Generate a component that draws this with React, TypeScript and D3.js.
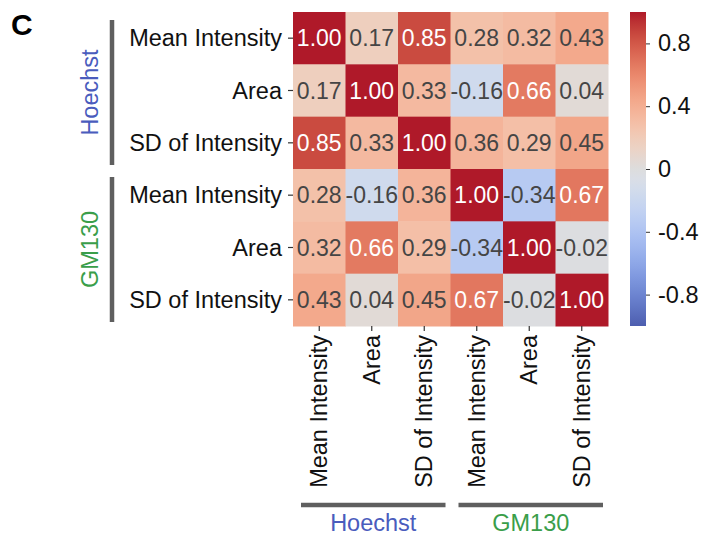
import React, { useRef, useEffect } from 'react';
import * as d3 from 'd3';

// data
const groups = ['Hoechst', 'GM130'];
const groupColors = ['#4a5cbd', '#3a9e4a'];
const features = ['Mean Intensity', 'Area', 'SD of Intensity'];
const corr = [
  [1.0, 0.17, 0.85, 0.28, 0.32, 0.43],
  [0.17, 1.0, 0.33, -0.16, 0.66, 0.04],
  [0.85, 0.33, 1.0, 0.36, 0.29, 0.45],
  [0.28, -0.16, 0.36, 1.0, -0.34, 0.67],
  [0.32, 0.66, 0.29, -0.34, 1.0, -0.02],
  [0.43, 0.04, 0.45, 0.67, -0.02, 1.0],
];
const cbarTicks = [0.8, 0.4, 0, -0.4, -0.8];

// Moreland cool-warm table (matplotlib "coolwarm")
const coolwarm = [
  [59, 76, 192], [68, 90, 204], [77, 104, 215], [87, 117, 225], [98, 130, 234],
  [108, 142, 241], [119, 154, 247], [130, 165, 251], [141, 176, 254], [152, 185, 255],
  [163, 194, 255], [174, 201, 253], [184, 208, 249], [194, 213, 244], [204, 217, 238],
  [213, 219, 230], [221, 221, 221], [229, 216, 209], [236, 211, 197], [241, 204, 185],
  [245, 196, 173], [247, 187, 160], [247, 177, 148], [247, 166, 135], [244, 154, 123],
  [241, 141, 111], [236, 127, 99], [229, 112, 88], [222, 96, 77], [213, 80, 66],
  [203, 62, 56], [192, 40, 47], [180, 4, 38],
];

const FONT = 'Liberation Sans, Arial, sans-serif';

// the printed figure is a little washed out, mostly in the blues
const soften = (c) => {
  const lab = d3.lab(d3.rgb(c[0], c[1], c[2]));
  if (lab.b < 0) {
    lab.a *= 0.5;
    lab.b *= 0.72;
    lab.l += (100 - lab.l) * 0.08;
  } else {
    lab.a *= 0.93;
    lab.b *= 0.93;
  }
  return d3.rgb(lab).formatHex();
};

const App = () => {
  const ref = useRef(null);

  useEffect(() => {
    const svg = d3.select(ref.current);
    svg.selectAll('*').remove();

    const labels = groups.flatMap(() => features);
    const idx = d3.range(labels.length);

    const x = d3.scaleBand().domain(idx).range([293, 608]);
    const y = d3.scaleBand().domain(idx).range([12, 326]);

    const stops = coolwarm.map(soften);
    const stopDomain = coolwarm.map((_, i) => -1 + (2 * i) / (coolwarm.length - 1));
    const color = d3.scaleLinear()
      .domain(stopDomain)
      .range(stops)
      .interpolate(d3.interpolateRgb)
      .clamp(true);

    const lum = (c) => {
      const r = d3.rgb(c);
      const f = v => { v = v / 255; return v <= 0.03928 ? v / 12.92 : Math.pow((v + 0.055) / 1.055, 2.4); };
      return 0.2126 * f(r.r) + 0.7152 * f(r.g) + 0.0722 * f(r.b);
    };

    // panel letter
    svg.append('text')
      .attr('x', 11).attr('y', 35)
      .attr('font-family', FONT).attr('font-size', 30).attr('font-weight', 'bold')
      .text('C');

    // cells
    const cells = corr.flatMap((row, i) => row.map((v, j) => ({ i, j, v })));
    const g = svg.append('g');
    g.selectAll('rect').data(cells).enter().append('rect')
      .attr('x', d => x(d.j))
      .attr('y', d => y(d.i))
      .attr('width', x.bandwidth() + 0.5)
      .attr('height', y.bandwidth() + 0.5)
      .attr('fill', d => color(d.v));

    g.selectAll('text').data(cells).enter().append('text')
      .attr('x', d => x(d.j) + x.bandwidth() / 2)
      .attr('y', d => y(d.i) + y.bandwidth() / 2)
      .attr('dy', '0.36em')
      .attr('text-anchor', 'middle')
      .attr('font-family', FONT).attr('font-size', 23)
      .attr('fill', d => (lum(color(d.v)) > 0.408 ? '#454545' : '#ffffff'))
      .text(d => d.v.toFixed(2));

    // row labels + ticks
    const yl = svg.append('g');
    idx.forEach(i => {
      const cy = y(i) + y.bandwidth() / 2;
      yl.append('line').attr('x1', 288).attr('x2', 293).attr('y1', cy).attr('y2', cy)
        .attr('stroke', '#333').attr('stroke-width', 1.2);
      yl.append('text').attr('x', 282).attr('y', cy).attr('dy', '0.35em')
        .attr('text-anchor', 'end').attr('font-family', FONT).attr('font-size', 23.5)
        .attr('fill', '#111').text(labels[i]);
    });

    // column labels + ticks
    const xl = svg.append('g');
    idx.forEach(j => {
      const cx = x(j) + x.bandwidth() / 2;
      xl.append('line').attr('x1', cx).attr('x2', cx).attr('y1', 326).attr('y2', 331)
        .attr('stroke', '#333').attr('stroke-width', 1.2);
      xl.append('text')
        .attr('transform', `translate(${cx},335) rotate(-90)`)
        .attr('dy', '0.35em')
        .attr('text-anchor', 'end').attr('font-family', FONT).attr('font-size', 23.5)
        .attr('fill', '#111').text(labels[j]);
    });

    // group brackets
    const n = features.length;
    groups.forEach((name, k) => {
      const y0 = y(k * n) + 8, y1 = y(k * n + n - 1) + y.bandwidth() - 4;
      svg.append('line').attr('x1', 112).attr('x2', 112).attr('y1', y0).attr('y2', y1)
        .attr('stroke', '#5f5f5f').attr('stroke-width', 4.5);
      svg.append('text')
        .attr('transform', `translate(90,${(y0 + y1) / 2}) rotate(-90)`)
        .attr('dy', '0.35em').attr('text-anchor', 'middle')
        .attr('font-family', FONT).attr('font-size', 23.5).attr('fill', groupColors[k])
        .text(name);

      const x0 = x(k * n) + 8, x1 = x(k * n + n - 1) + x.bandwidth() - 5;
      svg.append('line').attr('x1', x0).attr('x2', x1).attr('y1', 505).attr('y2', 505)
        .attr('stroke', '#5f5f5f').attr('stroke-width', 4.5);
      svg.append('text')
        .attr('x', (x0 + x1) / 2).attr('y', 531)
        .attr('text-anchor', 'middle')
        .attr('font-family', FONT).attr('font-size', 23.5).attr('fill', groupColors[k])
        .text(name);
    });

    // colorbar
    const cb = d3.scaleLinear().domain([-1, 1]).range([326, 12]);
    const defs = svg.append('defs');
    const grad = defs.append('linearGradient').attr('id', 'cw')
      .attr('x1', 0).attr('x2', 0).attr('y1', 1).attr('y2', 0);
    stops.forEach((c, i) => {
      grad.append('stop')
        .attr('offset', i / (stops.length - 1))
        .attr('stop-color', c);
    });
    svg.append('rect').attr('x', 630).attr('y', cb(1)).attr('width', 16)
      .attr('height', cb(-1) - cb(1)).attr('fill', 'url(#cw)');
    const axis = svg.append('g').attr('transform', 'translate(646,0)')
      .call(d3.axisRight(cb).tickValues(cbarTicks).tickSize(4).tickPadding(8)
        .tickFormat(d => (d === 0 ? '0' : d.toFixed(1))));
    axis.select('.domain').remove();
    axis.selectAll('line').attr('stroke', '#333');
    axis.selectAll('text').attr('font-family', FONT).attr('font-size', 23.5).attr('fill', '#111');
  });

  return (
    <svg ref={ref} width={702} height={538}
      style={{ position: 'absolute', left: 0, top: 0, background: '#fff' }} />
  );
};

export default App;
